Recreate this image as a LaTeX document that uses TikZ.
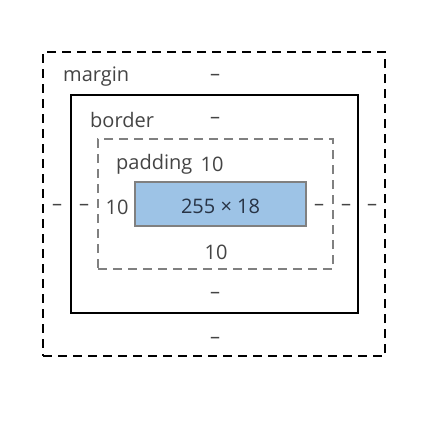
\documentclass[tikz,border=0pt]{standalone}
\usepackage{fontspec}
\setmainfont{Open Sans}
\usepackage{tikz}
\definecolor{boxtext}{RGB}{68, 68, 68}
\definecolor{sizetext}{RGB}{40, 52, 70}
\definecolor{contentblue}{RGB}{157, 195, 230}
\definecolor{padgray}{RGB}{128, 128, 128}
\tikzset{
  lbl/.style={text=boxtext, font=\fontsize{20}{24}\selectfont, inner sep=0pt, yshift=-2pt},
  boxnode/.style={rectangle, inner sep=0pt}
}

\begin{document}
\begin{tikzpicture}[x=1pt, y=-1pt]
    \useasboundingbox (0,0) rectangle (439,434);
    % the four boxes
    \node[boxnode, draw=black, line width=2pt, dash pattern=on 9pt off 6pt, minimum width=342pt, minimum height=304pt] (margin) at (214,204) {};
    \node[boxnode, draw=black, line width=2pt, minimum width=287pt, minimum height=218pt] (border) at (214.5,204) {};
    \node[boxnode, draw=padgray, line width=2pt, dash pattern=on 9pt off 6pt, minimum width=235pt, minimum height=130pt] (padding) at (215.5,204) {};
    \node[boxnode, draw=padgray, line width=1.5pt, fill=contentblue, minimum width=171pt, minimum height=44pt] (content) at (220.5,204) {};
    \node[lbl, text=sizetext] (size) at (content) {255 × 18};
    % margin values
    \node[lbl, anchor=west] (marginname) at (63,75) {margin};
    \node[lbl] (margintop) at (215,75) {–};
    \node[lbl] (marginbot) at (215,338) {–};
    \node[lbl] (marginleft) at (57,205) {–};
    \node[lbl] (marginright) at (372,205) {–};
    % border values
    \node[lbl, anchor=west] (bordername) at (90,118) {border};
    \node[lbl] (bordertop) at (215,118) {–};
    \node[lbl] (borderbot) at (215,293) {–};
    \node[lbl] (borderleft) at (84,205) {–};
    \node[lbl] (borderright) at (346,205) {–};
    % padding values
    \node[lbl, anchor=west] (paddingname) at (116,162) {padding};
    \node[lbl] (paddingtop) at (212,162) {10};
    \node[lbl] (paddingbot) at (216,250) {10};
    \node[lbl] (paddingleft) at (117,205) {10};
    \node[lbl] (paddingright) at (319,205) {–};
\end{tikzpicture}
\end{document}
